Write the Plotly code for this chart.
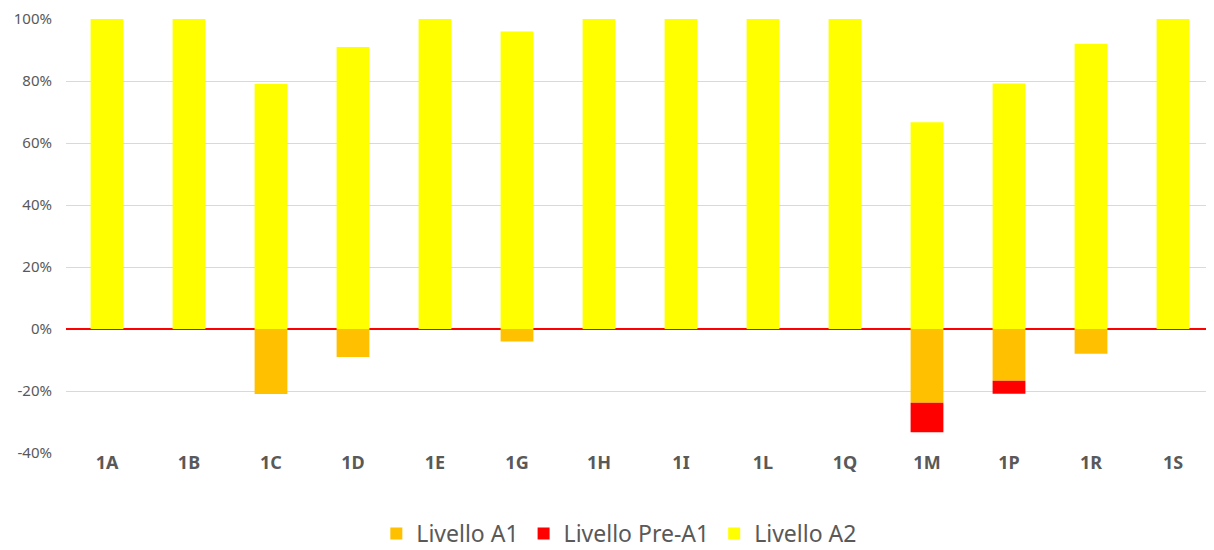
import plotly.graph_objects as go

classi = ["1A", "1B", "1C", "1D", "1E", "1G", "1H", "1I", "1L", "1Q", "1M", "1P", "1R", "1S"]
livello_a1 = [0, 0, -21, -9, 0, -4, 0, 0, 0, 0, -23.8, -16.7, -8, 0]
livello_pre_a1 = [0, 0, 0, 0, 0, 0, 0, 0, 0, 0, -9.5, -4.2, 0, 0]
livello_a2 = [100, 100, 79, 91, 100, 96, 100, 100, 100, 100, 66.7, 79.2, 92, 100]
y_ticks = [-40, -20, 0, 20, 40, 60, 80, 100]
y_labels = ["-40%", "-20%", "0%", "20%", "40%", "60%", "80%", "100%"]

font_family = "Noto Sans, Open Sans, sans-serif"
grey = "#595959"

fig = go.Figure()
fig.add_trace(go.Bar(x=classi, y=livello_a1, name="Livello A1", marker_color="#FFC000", marker_line_width=0))
fig.add_trace(go.Bar(x=classi, y=livello_pre_a1, name="Livello Pre-A1", marker_color="#FF0000", marker_line_width=0))
fig.add_trace(go.Bar(x=classi, y=livello_a2, name="Livello A2", marker_color="#FFFF00", marker_line_width=0))

fig.update_layout(
    width=1206, height=547,
    barmode="relative", bargap=0.6,
    plot_bgcolor="white", paper_bgcolor="white",
    margin=dict(l=58, r=0, t=11, b=102),
    font=dict(family=font_family, color=grey),
    legend=dict(orientation="h", x=0.482, xanchor="center", yref="container", y=0, yanchor="bottom",
                font=dict(size=23, color=grey), traceorder="normal"),
    xaxis=dict(showgrid=False, showline=False, ticks="", automargin=False, ticklabelstandoff=-3,
               tickfont=dict(size=18, color=grey, family="Noto Sans, sans-serif", weight="bold")),
    yaxis=dict(range=[-40, 100], tickvals=y_ticks, ticktext=y_labels, automargin=False,
               ticklabeloverflow="allow",
               showgrid=True, gridcolor="#D9D9D9", gridwidth=1,
               zeroline=True, zerolinecolor="#FF0000", zerolinewidth=2, ticklabelstandoff=13,
               tickfont=dict(size=15, color=grey), ticks="", showline=False),
)

fig.write_html("out.html")
